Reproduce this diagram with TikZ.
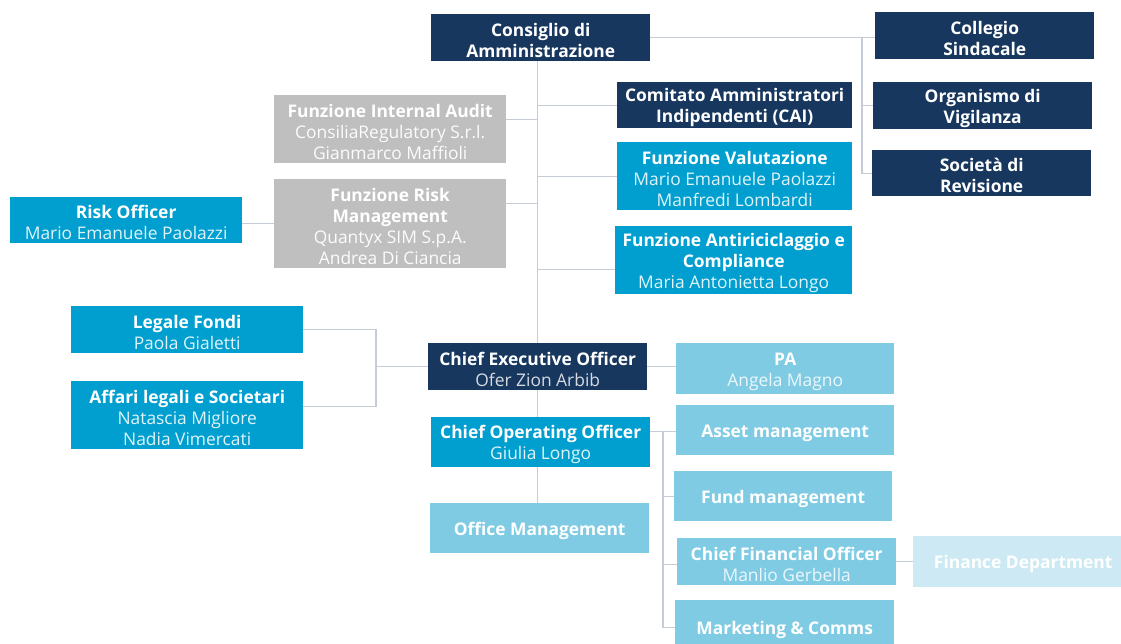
\documentclass[tikz,border=0pt]{standalone}
\usepackage{fontspec}
\setmainfont{Open Sans}
\definecolor{navy}{HTML}{17375E}
\definecolor{midblue}{HTML}{009FCF}
\definecolor{lightblue}{HTML}{7FCBE4}
\definecolor{paleblue}{HTML}{CDEAF4}
\definecolor{boxgrey}{HTML}{BFBFBF}
\definecolor{linec}{HTML}{C5CCD8}
\colorlet{subc}{white}
\newcommand\subt[1]{{\mdseries\color{subc}#1}}
\newcommand\st{\rule{0pt}{18pt}}
\tikzset{
  box/.style={rectangle, anchor=north west, inner sep=0pt, align=center, text=white,
    font=\fontsize{17.4}{21}\selectfont\bfseries},
  darkbox/.style={box, fill=navy, execute at begin node={\colorlet{subc}{white!82!navy}}},
  midbox/.style={box, fill=midblue, execute at begin node={\colorlet{subc}{white!88!midblue}}},
  lightbox/.style={box, fill=lightblue, execute at begin node={\colorlet{subc}{white!85!lightblue}}},
  palebox/.style={box, fill=paleblue},
  greybox/.style={box, fill=boxgrey, execute at begin node={\colorlet{subc}{white!95!boxgrey}}},
  conn/.style={draw=linec, line width=1.2pt}
}
\begin{document}
\begin{tikzpicture}[x=1pt,y=-1pt]
\useasboundingbox (0,0) rectangle (1121,644);
% top
\node[darkbox, minimum width=219pt, minimum height=47pt] (cda) at (431,14) {\st Consiglio di\\Amministrazione};
\node[darkbox, minimum width=219pt, minimum height=47pt] (cs) at (875,12) {\st Collegio\\Sindacale};
\node[darkbox, minimum width=219pt, minimum height=47pt] (odv) at (873,82) {\st Organismo di\\Vigilanza};
\node[darkbox, minimum width=219pt, minimum height=46pt] (sdr) at (872,150) {\st Società di\\Revisione};
\node[darkbox, minimum width=235pt, minimum height=46pt] (cai) at (617,82) {\st Comitato Amministratori\\Indipendenti (CAI)};
\node[midbox, minimum width=235pt, minimum height=68pt] (val) at (617,142) {\st Funzione Valutazione\\\subt{Mario Emanuele Paolazzi}\\\subt{Manfredi Lombardi}};
\node[midbox, minimum width=237pt, minimum height=68pt] (anti) at (615,226) {\st Funzione Antiriciclaggio e\\Compliance\\\subt{Maria Antonietta Longo}};
\node[greybox, minimum width=232pt, minimum height=68pt] (ia) at (274,95) {\st Funzione Internal Audit\\\subt{ConsiliaRegulatory S.r.l.}\\\subt{Gianmarco Maffioli}};
\node[greybox, minimum width=232pt, minimum height=89pt] (rm) at (274,179) {\st Funzione Risk\\Management\\\subt{Quantyx SIM S.p.A.}\\\subt{Andrea Di Ciancia}};
\node[midbox, minimum width=232pt, minimum height=46pt] (ro) at (10,197) {\st Risk Officer\\\subt{Mario Emanuele Paolazzi}};
\node[midbox, minimum width=232pt, minimum height=47pt] (lf) at (71,306) {\st Legale Fondi\\\subt{Paola Gialetti}};
\node[midbox, minimum width=232pt, minimum height=68pt] (al) at (71,381) {\st Affari legali e Societari\\\subt{Natascia Migliore}\\\subt{Nadia Vimercati}};
\node[darkbox, minimum width=219pt, minimum height=47pt] (ceo) at (428,343) {\st Chief Executive Officer\\\subt{Ofer Zion Arbib}};
\node[midbox, minimum width=219pt, minimum height=50pt] (coo) at (431,417) {\st Chief Operating Officer\\\subt{Giulia Longo}};
\node[lightbox, minimum width=219pt, minimum height=50pt] (om) at (430,503) {\st Office Management};
\node[lightbox, minimum width=218pt, minimum height=51pt] (pa) at (676,343) {\st PA\\\subt{Angela Magno}};
\node[lightbox, minimum width=218pt, minimum height=50pt] (am) at (676,405) {\st Asset management};
\node[lightbox, minimum width=218pt, minimum height=50pt] (fm) at (674,471) {\st Fund management};
\node[lightbox, minimum width=219pt, minimum height=47pt] (cfo) at (677,538) {\st Chief Financial Officer\\\subt{Manlio Gerbella}};
\node[palebox, minimum width=220pt, minimum height=51pt] (fd) at (913,536) {\st Finance Department};
\node[lightbox, minimum width=219pt, minimum height=54pt] (mk) at (675,600) {\st Marketing \& Comms};
% spine
\draw[conn] (cda.south -| ceo.north) -- (ceo.north);
\draw[conn] (ceo.south) -- (ceo.south |- coo.north);
\draw[conn] (coo.south -| ceo.south) -- (ceo.south |- om.north);
\draw[conn] (cai.west) -- (cai.west -| ceo.north);
\draw[conn] (val.west) -- (val.west -| ceo.north);
\draw[conn] ([yshift=-9pt]anti.west) coordinate (aw) -- (aw -| ceo.north);
\draw[conn] ([yshift=10pt]ia.east) coordinate (iae) -- (iae -| ceo.north);
\draw[conn] ([yshift=20pt]rm.east) coordinate (rme) -- (rme -| ceo.north);
\draw[conn] (rm.west) -- (rm.west -| ro.east);
% right cluster
\coordinate (rv) at (862,38);
\draw[conn] (cda.east) -- (cda.east -| cs.west);
\draw[conn] (rv) |- (sdr.west);
\draw[conn] (odv.west) -- (odv.west -| rv);
% legal bracket
\coordinate (bk) at (376,0);
\draw[conn] ([yshift=9pt]al.east) coordinate (ale) -- (ale -| bk) -- (bk |- lf.east) -- (lf.east);
\draw[conn] (ceo.west) -- (ceo.west -| bk);
\draw[conn] (ceo.east) -- (ceo.east -| pa.west);
% COO cluster
\coordinate (cv) at (663,0);
\draw[conn] ([yshift=11pt]coo.east) coordinate (ce) -- (ce -| am.west);
\draw[conn] (ce -| cv) |- (mk.west);
\draw[conn] (fm.west) -- (fm.west -| cv);
\draw[conn] ([yshift=-3pt]cfo.west) coordinate (cw) -- (cw -| cv);
\draw[conn] (cfo.east) -- (cfo.east -| fd.west);
\end{tikzpicture}
\end{document}
